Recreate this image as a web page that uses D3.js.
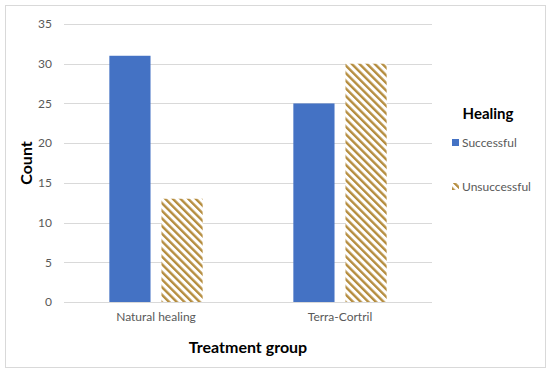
<!DOCTYPE html>
<html>
<head>
<meta charset="utf-8">
<script src="https://cdn.jsdelivr.net/npm/d3@7"></script>
<style>
  body { margin: 0; background: #fff; }
  text { font-family: Lato, "Open Sans", sans-serif; }
</style>
</head>
<body>
<svg id="chart" width="550" height="373"></svg>
<script>
const groups = ["Natural healing", "Terra-Cortril"];
const outcomes = ["Successful", "Unsuccessful"];
const successful = [31, 25];
const unsuccessful = [13, 30];
const yTicks = [0, 5, 10, 15, 20, 25, 30, 35];

const svg = d3.select("#chart");
const plot = { left: 64, right: 432, top: 24, bottom: 302 };

// outer frame
svg.append("rect")
    .attr("x", 5.5).attr("y", 5.5)
    .attr("width", 540).attr("height", 362)
    .attr("fill", "#fff")
    .attr("stroke", "#d9d9d9");

const defs = svg.append("defs");
const pat = defs.append("pattern")
    .attr("id", "hatch")
    .attr("patternUnits", "userSpaceOnUse")
    .attr("width", 5.4).attr("height", 5.4)
    .attr("patternTransform", "rotate(-45)");
pat.append("rect").attr("width", 5.4).attr("height", 5.4).attr("fill", "#fff");
pat.append("rect").attr("width", 2.4).attr("height", 5.4).attr("fill", "#b58d3e");

const x0 = d3.scaleBand().domain(groups).range([plot.left, plot.right]);
const x1 = d3.scaleBand().domain(outcomes)
    .range([0, x0.bandwidth()])
    .paddingInner(0.21)
    .paddingOuter(0.87);
const y = d3.scaleLinear().domain([0, 35]).range([plot.bottom, plot.top]);

// gridlines
svg.append("g")
    .selectAll("line")
    .data(yTicks)
    .join("line")
    .attr("x1", plot.left).attr("x2", plot.right)
    .attr("y1", d => Math.round(y(d)) + 0.5)
    .attr("y2", d => Math.round(y(d)) + 0.5)
    .attr("stroke", "#d9d9d9")
    .attr("stroke-width", 1);

// y axis labels
const yAxis = svg.append("g")
    .attr("transform", `translate(${plot.left},0)`)
    .call(d3.axisLeft(y).tickValues(yTicks).tickSize(0).tickPadding(12));
yAxis.select(".domain").remove();
yAxis.selectAll("text")
    .attr("fill", "#595959")
    .style("font-size", "12px")
    .style("font-family", "Lato, 'Open Sans', sans-serif");

// bars
const rows = groups.map((g, i) => ({ group: g, values: [
    { key: "Successful", value: successful[i] },
    { key: "Unsuccessful", value: unsuccessful[i] }
]}));

svg.append("g")
    .selectAll("g")
    .data(rows)
    .join("g")
    .attr("transform", d => `translate(${x0(d.group)},0)`)
    .selectAll("rect")
    .data(d => d.values)
    .join("rect")
    .attr("x", d => x1(d.key))
    .attr("width", x1.bandwidth())
    .attr("y", d => y(d.value))
    .attr("height", d => y(0) - y(d.value))
    .attr("fill", d => d.key === "Successful" ? "#4472c4" : "url(#hatch)");

// x axis
const xAxis = svg.append("g")
    .attr("transform", `translate(0,${plot.bottom})`)
    .call(d3.axisBottom(x0).tickSize(0).tickPadding(10));
xAxis.select(".domain").remove();
xAxis.selectAll("text")
    .attr("fill", "#595959")
    .style("font-size", "12px")
    .style("font-family", "Lato, 'Open Sans', sans-serif");

// axis titles
svg.append("text")
    .attr("x", (plot.left + plot.right) / 2)
    .attr("y", 353)
    .attr("text-anchor", "middle")
    .style("font-size", "16px")
    .style("font-weight", "bold")
    .text("Treatment group");

svg.append("text")
    .attr("transform", `translate(32,${(plot.top + plot.bottom) / 2}) rotate(-90)`)
    .attr("text-anchor", "middle")
    .style("font-size", "16px")
    .style("font-weight", "bold")
    .text("Count");

// legend
const legend = svg.append("g").attr("transform", "translate(449,0)");
legend.append("text")
    .attr("x", 39).attr("y", 119)
    .attr("text-anchor", "middle")
    .style("font-size", "15px")
    .style("font-weight", "bold")
    .text("Healing");

const items = legend.selectAll("g.item")
    .data(outcomes)
    .join("g")
    .attr("class", "item")
    .attr("transform", (d, i) => `translate(0,${143 + i * 44})`);
items.append("rect")
    .attr("x", 3).attr("y", -4)
    .attr("width", 7).attr("height", 7)
    .attr("fill", d => d === "Successful" ? "#4472c4" : "url(#hatch)");
items.append("text")
    .attr("x", 13).attr("y", 4)
    .attr("fill", "#595959")
    .style("font-size", "12px")
    .text(d => d);
</script>
</body>
</html>
